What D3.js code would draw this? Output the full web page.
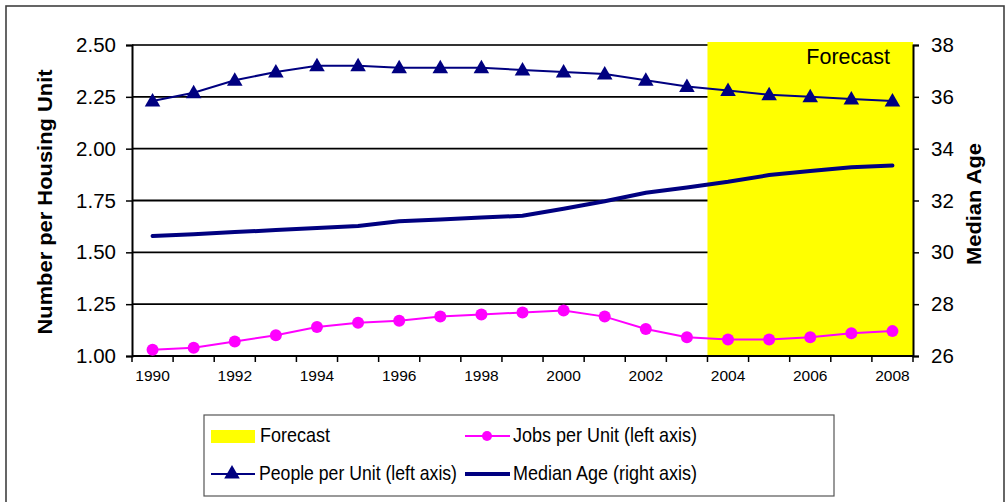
<!DOCTYPE html>
<html>
<head>
<meta charset="utf-8">
<script src="https://cdn.jsdelivr.net/npm/d3@7"></script>
<style>
  html, body { margin: 0; padding: 0; background: #fff; }
  svg { display: block; font-family: "Liberation Sans", Arial, sans-serif; }
</style>
</head>
<body>
<svg id="chart" width="1006" height="502"></svg>
<script>
// Housing-unit ratios 1990–2008, with median age on a second axis
const years = ["1990","1991","1992","1993","1994","1995","1996","1997","1998","1999",
               "2000","2001","2002","2003","2004","2005","2006","2007","2008"];
const yearLabels = ["1990","1992","1994","1996","1998","2000","2002","2004","2006","2008"];
const forecastYears = ["2004","2005","2006","2007","2008"];

const peoplePerUnit = [2.23, 2.27, 2.33, 2.37, 2.40, 2.40, 2.39, 2.39, 2.39, 2.38,
                       2.37, 2.36, 2.33, 2.30, 2.28, 2.26, 2.25, 2.24, 2.23];
const jobsPerUnit   = [1.03, 1.04, 1.07, 1.10, 1.14, 1.16, 1.17, 1.19, 1.20, 1.21,
                       1.22, 1.19, 1.13, 1.09, 1.08, 1.08, 1.09, 1.11, 1.12];
const medianAge     = [30.63, 30.70, 30.78, 30.86, 30.94, 31.02, 31.20, 31.27, 31.34, 31.41,
                       31.68, 31.97, 32.30, 32.50, 32.72, 32.98, 33.14, 33.28, 33.35];

const leftTicks  = [1.00, 1.25, 1.50, 1.75, 2.00, 2.25, 2.50];
const rightTicks = [26, 28, 30, 32, 34, 36, 38];

const NAVY = "#000080", MAGENTA = "#FF00FF", YELLOW = "#FFFF00";

const svg = d3.select("#chart");
const plot = { left: 132, right: 913, top: 45, bottom: 356 };

const x = d3.scaleBand().domain(years).range([plot.left, plot.right]).padding(0);
const cx = d => x(d) + x.bandwidth() / 2;
const yL = d3.scaleLinear().domain([1, 2.5]).range([plot.bottom, plot.top]);
const yR = d3.scaleLinear().domain([26, 38]).range([plot.bottom, plot.top]);

// outer frame
svg.append("rect").attr("x", 6).attr("y", 6).attr("width", 998).attr("height", 520)
  .attr("fill", "none").attr("stroke", "#404040").attr("stroke-width", 1.6);

// horizontal gridlines
svg.append("g").selectAll("line").data(leftTicks.slice(1)).join("line")
  .attr("x1", plot.left).attr("x2", plot.right)
  .attr("y1", d => yL(d)).attr("y2", d => yL(d))
  .attr("stroke", d => d === 2.5 ? "#333" : "#000").attr("stroke-width", 1.8);

// forecast shading
const fx0 = x(forecastYears[0]);
svg.append("rect")
  .attr("x", fx0).attr("y", plot.top - 3)
  .attr("width", plot.right - fx0).attr("height", plot.bottom - plot.top + 3)
  .attr("fill", YELLOW);
svg.append("text").attr("x", 890).attr("y", 64).attr("text-anchor", "end")
  .attr("font-size", 21.5).attr("fill", "#000").text("Forecast");

// left axis
const gL = svg.append("g").attr("transform", `translate(${plot.left},0)`)
  .call(d3.axisLeft(yL).tickValues(leftTicks).tickFormat(d3.format(".2f")).tickSize(6).tickPadding(10));
// right axis
const gR = svg.append("g").attr("transform", `translate(${plot.right},0)`)
  .call(d3.axisRight(yR).tickValues(rightTicks).tickFormat(d3.format("d")).tickSize(6).tickPadding(12));
[gL, gR].forEach(g => {
  g.select(".domain").attr("stroke", "#000").attr("stroke-width", 2);
  g.selectAll(".tick line").attr("stroke", "#000").attr("stroke-width", 1.5);
  g.selectAll(".tick text").attr("font-size", 20.5).attr("fill", "#000")
    .attr("font-family", "Liberation Sans, Arial, sans-serif");
});

// bottom axis: labels on even years, tick marks at category boundaries
const gB = svg.append("g").attr("transform", `translate(0,${plot.bottom})`)
  .call(d3.axisBottom(x).tickValues(yearLabels).tickSize(0).tickPadding(14));
gB.select(".domain").remove();
gB.selectAll(".tick text").attr("font-size", 15.5).attr("fill", "#000")
  .attr("font-family", "Liberation Sans, Arial, sans-serif");
svg.append("line").attr("x1", plot.left).attr("x2", plot.right)
  .attr("y1", plot.bottom).attr("y2", plot.bottom).attr("stroke", "#000").attr("stroke-width", 2);
svg.append("g").selectAll("line").data(years.concat(["end"])).join("line")
  .attr("x1", d => d === "end" ? plot.right : x(d))
  .attr("x2", d => d === "end" ? plot.right : x(d))
  .attr("y1", plot.bottom).attr("y2", plot.bottom + 6)
  .attr("stroke", "#000").attr("stroke-width", 1.5);

// axis titles
svg.append("text")
  .attr("transform", `translate(52,202) rotate(-90)`)
  .attr("text-anchor", "middle").attr("font-size", 20).attr("font-weight", "bold")
  .attr("textLength", 265).attr("lengthAdjust", "spacingAndGlyphs")
  .text("Number per Housing Unit");
svg.append("text")
  .attr("transform", `translate(981,204) rotate(-90)`)
  .attr("text-anchor", "middle").attr("font-size", 20).attr("font-weight", "bold")
  .attr("textLength", 122).attr("lengthAdjust", "spacingAndGlyphs")
  .text("Median Age");

// median age (right axis)
svg.append("path").datum(medianAge)
  .attr("fill", "none").attr("stroke", NAVY).attr("stroke-width", 4).attr("stroke-linecap", "round")
  .attr("d", d3.line().x((d, i) => cx(years[i])).y(d => yR(d)));

// jobs per unit
svg.append("path").datum(jobsPerUnit)
  .attr("fill", "none").attr("stroke", MAGENTA).attr("stroke-width", 2)
  .attr("d", d3.line().x((d, i) => cx(years[i])).y(d => yL(d)));
svg.append("g").selectAll("circle").data(jobsPerUnit).join("circle")
  .attr("cx", (d, i) => cx(years[i])).attr("cy", d => yL(d)).attr("r", 6)
  .attr("fill", MAGENTA);

// people per unit
const tri = d3.symbol().type(d3.symbolTriangle).size(105);
svg.append("path").datum(peoplePerUnit)
  .attr("fill", "none").attr("stroke", NAVY).attr("stroke-width", 2)
  .attr("d", d3.line().x((d, i) => cx(years[i])).y(d => yL(d)));
svg.append("g").selectAll("path").data(peoplePerUnit).join("path")
  .attr("d", tri)
  .attr("transform", (d, i) => `translate(${cx(years[i])},${yL(d) + 1})`)
  .attr("fill", NAVY);

// legend
const lg = svg.append("g");
lg.append("rect").attr("x", 204).attr("y", 415).attr("width", 630).attr("height", 81)
  .attr("fill", "#fff").attr("stroke", "#555").attr("stroke-width", 1.2);
lg.append("rect").attr("x", 211).attr("y", 430).attr("width", 44).attr("height", 13).attr("fill", YELLOW);
lg.append("line").attr("x1", 465).attr("x2", 510).attr("y1", 436).attr("y2", 436)
  .attr("stroke", MAGENTA).attr("stroke-width", 2);
lg.append("circle").attr("cx", 487).attr("cy", 436).attr("r", 5).attr("fill", MAGENTA);
lg.append("line").attr("x1", 211).attr("x2", 255).attr("y1", 474).attr("y2", 474)
  .attr("stroke", NAVY).attr("stroke-width", 2);
lg.append("path").attr("d", tri).attr("transform", "translate(232,474)").attr("fill", NAVY);
lg.append("line").attr("x1", 465).attr("x2", 510).attr("y1", 474).attr("y2", 474)
  .attr("stroke", NAVY).attr("stroke-width", 4);

const legendText = [
  { t: "Forecast", x: 260, y: 442, w: 70 },
  { t: "Jobs per Unit (left axis)", x: 513, y: 442, w: 184 },
  { t: "People per Unit (left axis)", x: 259, y: 480, w: 198 },
  { t: "Median Age (right axis)", x: 513, y: 480, w: 184 }
];
lg.selectAll("text.lt").data(legendText).join("text").attr("class", "lt")
  .attr("x", d => d.x).attr("y", d => d.y)
  .attr("font-size", 21).attr("fill", "#000")
  .attr("textLength", d => d.w).attr("lengthAdjust", "spacingAndGlyphs")
  .text(d => d.t);
</script>
</body>
</html>
